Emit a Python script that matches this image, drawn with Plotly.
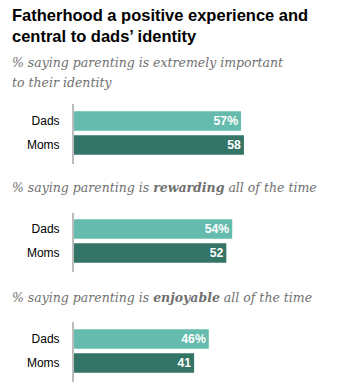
import plotly.graph_objects as go

W, H = 354, 391
categories = ["Dads", "Moms"]
groups = [
    "% saying parenting is extremely important<br>to their identity",
    "% saying parenting is <b>rewarding</b> all of the time",
    "% saying parenting is <b>enjoyable</b> all of the time",
]
dads = [57, 54, 46]
moms = [58, 52, 41]

DAD_COLOR = "#65BBAD"
MOM_COLOR = "#357567"

fig = go.Figure()

# pixel layout
x0 = 74
px_per_unit = 2.93
xmax = (W - x0) / px_per_unit
dom_px = [(104, 164), (213, 272), (322, 382)]
sub_y = [62, 187, 297]

layout = dict(
    width=W, height=H, margin=dict(l=0, r=0, t=0, b=0),
    paper_bgcolor="white", plot_bgcolor="white", showlegend=False,
    font=dict(family="Liberation Sans, Arial, sans-serif", size=12, color="#000"),
    barmode="overlay",
)

annotations = [
    dict(text="<b>Fatherhood a positive experience and<br>central to dads’ identity</b>",
         x=10 / W, y=1 - 4 / H, xref="paper", yref="paper", xanchor="left", yanchor="top",
         align="left", showarrow=False,
         font=dict(family="Liberation Sans, Arial, sans-serif", size=16.5, color="#000")),
]

for i in range(3):
    xa = "x" if i == 0 else f"x{i+1}"
    ya = "y" if i == 0 else f"y{i+1}"
    vals = [dads[i], moms[i]]
    texts = [f"{dads[i]}%", f"{moms[i]}"]
    fig.add_trace(go.Bar(
        y=categories, x=vals, orientation="h", xaxis=xa, yaxis=ya,
        marker=dict(color=[DAD_COLOR, MOM_COLOR], line=dict(width=0)),
        width=0.82, text=texts, textposition="inside", insidetextanchor="end",
        textangle=0,
        textfont=dict(color="white", size=12.5, family="Liberation Sans, Arial, sans-serif", weight="bold"),
        cliponaxis=False, hoverinfo="skip",
    ))
    top, bot = dom_px[i]
    span_units = (bot - top) / 24.0
    first = (17 if i != 1 else 16) / 24.0
    key_x = "xaxis" if i == 0 else f"xaxis{i+1}"
    key_y = "yaxis" if i == 0 else f"yaxis{i+1}"
    layout[key_x] = dict(domain=[x0 / W, 1], range=[0, xmax], visible=False,
                         anchor=ya, fixedrange=True)
    layout[key_y] = dict(domain=[1 - bot / H, 1 - top / H],
                         range=[span_units - first, -first],
                         anchor=xa, showline=True, linecolor="#BDBDBD", linewidth=2,
                         showgrid=False, zeroline=False, ticks="",
                         ticklabelstandoff=10,
                         tickfont=dict(size=12, color="#000", family="Liberation Sans, Arial, sans-serif"),
                         type="category", categoryorder="array", categoryarray=categories)
    for j, line in enumerate(groups[i].split("<br>")):
        annotations.append(dict(
            text=f"<i>{line}</i>", x=10 / W, y=1 - (sub_y[i] + 20 * j) / H,
            xref="paper", yref="paper", xanchor="left", yanchor="middle", align="left",
            showarrow=False,
            font=dict(family="DejaVu Serif, serif", size=12.5, color="#707070")))

layout["annotations"] = annotations
fig.update_layout(**layout)
fig.write_html("out.html")
